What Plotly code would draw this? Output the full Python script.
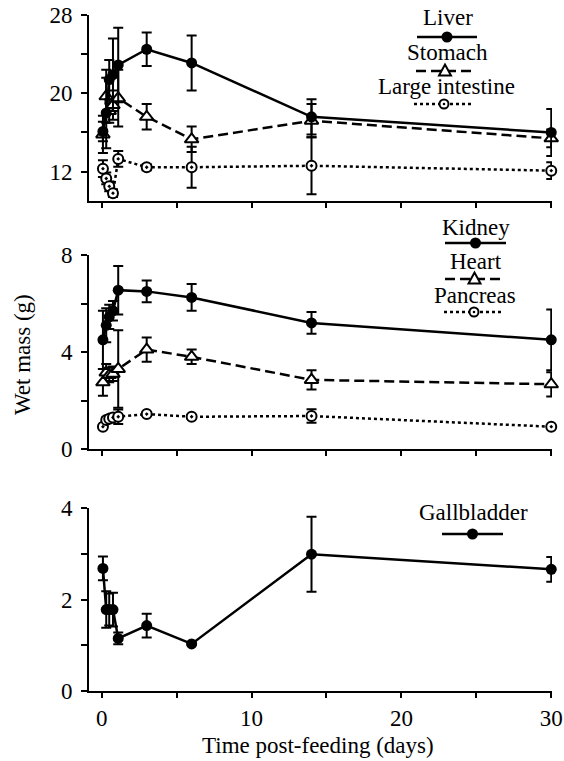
import plotly.graph_objects as go

# ---------------- data ----------------
time_days = [0.08, 0.3, 0.5, 0.75, 1.1, 3, 6, 14, 30]

liver = [16.1, 18.0, 21.4, 21.9, 22.9, 24.5, 23.1, 17.6, 16.0]
liver_err = [1.0, 3.6, 2.0, 3.7, 3.8, 1.7, 2.8, 1.8, 2.4]
stomach = [15.8, 19.7, 18.2, 18.8, 19.5, 17.6, 15.3, 17.2, 15.4]
stomach_err = [1.9, 2.7, 1.2, 1.5, 2.9, 1.3, 1.3, 1.7, 0.9]
large_int = [12.3, 11.3, 10.5, 9.8, 13.3, 12.45, 12.45, 12.6, 12.1]
large_int_err = [0.85, 0.6, 0.5, 0.4, 0.8, 0.3, 2.1, 2.9, 0.85]

kidney = [4.5, 5.1, 5.45, 5.7, 6.55, 6.5, 6.25, 5.2, 4.5]
kidney_err = [1.2, 0.7, 0.5, 0.4, 1.0, 0.45, 0.55, 0.45, 1.25]
heart = [2.75, 3.15, 3.05, 3.1, 3.3, 4.1, 3.8, 2.85, 2.67]
heart_err = [0.55, 0.35, 0.3, 0.3, 1.6, 0.5, 0.3, 0.4, 0.5]
pancreas = [0.92, 1.2, 1.25, 1.3, 1.33, 1.44, 1.33, 1.36, 0.92]
pancreas_err = [0.05, 0.1, 0.1, 0.15, 0.3, 0.08, 0.08, 0.28, 0.05]

gallbladder = [2.68, 1.78, 1.78, 1.78, 1.15, 1.43, 1.03, 2.99, 2.66]
gallbladder_err = [0.26, 0.4, 0.35, 0.37, 0.13, 0.26, 0.02, 0.82, 0.27]

x_tick_vals = [0, 10, 20, 30]
x_tick_text = ["0", "10", "20", "30"]
x_title = "Time post-feeding (days)"
y_title = "Wet mass (g)"

# ---------------- layout geometry ----------------
FONT = "Liberation Serif, Times New Roman, Times, Nimbus Roman, DejaVu Serif, serif"
FS = 23
W, H = 564, 761
ML, MR, MT, MB = 89, 12, 15, 70
PW = W - ML - MR
PH = H - MT - MB


def px(x, y):
    return (x - ML) / PW, (H - MB - y) / PH


def ydom(top_px, bot_px):
    return [(H - MB - bot_px) / PH, (H - MB - top_px) / PH]


fig = go.Figure()

SOLID = dict(color="black", width=2.5)
DASH = dict(color="black", width=2.5, dash="10px,5px")
DOT = dict(color="black", width=2.5, dash="3px,3px")

M_FILLED = dict(symbol="circle", size=11, color="black", line=dict(width=0))
M_TRI = dict(symbol="triangle-up", size=12, color="white", line=dict(color="black", width=2))
M_CDOT = dict(symbol="circle-dot", size=10, color="white", line=dict(color="black", width=2))


def add_series(y, err, line, marker, ax):
    fig.add_trace(go.Scatter(
        x=time_days, y=y, mode="lines+markers",
        line=line, marker=marker,
        error_y=dict(type="data", array=err, color="black", thickness=2, width=5),
        xaxis="x" + ax, yaxis="y" + ax, cliponaxis=False, showlegend=False,
        hoverinfo="skip",
    ))


add_series(large_int, large_int_err, DOT, M_CDOT, "")
add_series(stomach, stomach_err, DASH, M_TRI, "")
add_series(liver, liver_err, SOLID, M_FILLED, "")

add_series(pancreas, pancreas_err, DOT, M_CDOT, "2")
add_series(heart, heart_err, DASH, M_TRI, "2")
add_series(kidney, kidney_err, SOLID, M_FILLED, "2")

add_series(gallbladder, gallbladder_err, SOLID, M_FILLED, "3")

tickfont = dict(family=FONT, size=FS, color="black")

xcommon = dict(
    range=[-0.85, 30.05], showline=True, linewidth=2, linecolor="black",
    ticks="outside", ticklen=5, tickwidth=2, tickcolor="black",
    tickmode="array", tickvals=x_tick_vals, ticktext=x_tick_text,
    minor=dict(dtick=5, tick0=0, ticks="outside", ticklen=5, tickwidth=2, tickcolor="black"),
    showgrid=False, zeroline=False, tickfont=tickfont, domain=[0, 1],
    automargin=False, fixedrange=True,
)
ycommon = dict(
    showline=True, linewidth=2, linecolor="black",
    ticks="outside", ticklen=6, tickwidth=2, tickcolor="black",
    showgrid=False, zeroline=False, tickfont=tickfont, ticklabelstandoff=4,
    automargin=False, fixedrange=True,
)

fig.update_layout(
    template="none",
    xaxis=dict(xcommon, anchor="y", showticklabels=False),
    xaxis2=dict(xcommon, anchor="y2", showticklabels=False),
    xaxis3=dict(xcommon, anchor="y3", showticklabels=True),
    yaxis=dict(ycommon, anchor="x", domain=ydom(15, 201), range=[9, 28],
               tick0=12, dtick=8,
               minor=dict(tick0=12, dtick=4, ticks="outside", ticklen=6, tickwidth=2, tickcolor="black")),
    yaxis2=dict(ycommon, anchor="x2", domain=ydom(255, 449), range=[0, 8],
                tick0=0, dtick=4,
                minor=dict(tick0=0, dtick=2, ticks="outside", ticklen=6, tickwidth=2, tickcolor="black")),
    yaxis3=dict(ycommon, anchor="x3", domain=ydom(508, 691), range=[0, 4],
                tick0=0, dtick=2,
                minor=dict(tick0=0, dtick=1, ticks="outside", ticklen=6, tickwidth=2, tickcolor="black")),
    width=W, height=H,
    margin=dict(l=ML, r=MR, t=MT, b=MB, pad=0, autoexpand=False),
    paper_bgcolor="white", plot_bgcolor="white",
    showlegend=False,
    font=dict(family=FONT, size=FS, color="black"),
)

annotations = []
shapes = []

# axis titles
ax_, ay_ = px(318, 745)
annotations.append(dict(text=x_title, x=ax_, y=ay_, xref="paper", yref="paper",
                        showarrow=False, xanchor="center", yanchor="middle",
                        font=dict(family=FONT, size=FS, color="black")))
ax_, ay_ = px(22, 355)
annotations.append(dict(text=y_title, x=ax_, y=ay_, xref="paper", yref="paper",
                        showarrow=False, xanchor="center", yanchor="middle", textangle=-90,
                        font=dict(family=FONT, size=FS, color="black")))

# custom legends: label above a line sample with centred marker
legend_items = [
    dict(label="Liver", tx=448, ty=18, x0=417, x1=477, ly=37, dash="solid", mk="filled"),
    dict(label="Stomach", tx=447, ty=53, x0=416, x1=474, ly=71, dash="10px,5px", mk="tri"),
    dict(label="Large intestine", tx=446, ty=87, x0=414, x1=474, ly=104, dash="3px,3px", mk="cdot"),
    dict(label="Kidney", tx=476, ty=227, x0=445, x1=506, ly=243, dash="solid", mk="filled"),
    dict(label="Heart", tx=476, ty=261, x0=445, x1=504, ly=279, dash="10px,5px", mk="tri"),
    dict(label="Pancreas", tx=475, ty=295, x0=444, x1=504, ly=312, dash="3px,3px", mk="cdot"),
    dict(label="Gallbladder", tx=473, ty=512, x0=442, x1=503, ly=534, dash="solid", mk="filled"),
]

for it in legend_items:
    tx, ty = px(it["tx"], it["ty"])
    annotations.append(dict(text=it["label"], x=tx, y=ty, xref="paper", yref="paper",
                            showarrow=False, xanchor="center", yanchor="middle",
                            font=dict(family=FONT, size=FS, color="black")))
    lx0, ly = px(it["x0"], it["ly"])
    lx1, _ = px(it["x1"], it["ly"])
    shapes.append(dict(type="line", xref="paper", yref="paper", x0=lx0, x1=lx1, y0=ly, y1=ly,
                       line=dict(color="black", width=2.5, dash=it["dash"]), layer="above"))
    cx, _ = px((it["x0"] + it["x1"]) / 2, it["ly"])
    base = dict(xref="paper", yref="paper", xsizemode="pixel", ysizemode="pixel",
                xanchor=cx, yanchor=ly, layer="above")
    if it["mk"] == "filled":
        shapes.append(dict(base, type="circle", x0=-5.5, x1=5.5, y0=-5.5, y1=5.5,
                           fillcolor="black", line=dict(width=0)))
    elif it["mk"] == "tri":
        shapes.append(dict(base, type="path", path="M-6,-4.5 L6,-4.5 L0,6.5 Z",
                           fillcolor="white", line=dict(color="black", width=2)))
    else:
        shapes.append(dict(base, type="circle", x0=-4.5, x1=4.5, y0=-4.5, y1=4.5,
                           fillcolor="white", line=dict(color="black", width=2)))
        shapes.append(dict(base, type="circle", x0=-1.3, x1=1.3, y0=-1.3, y1=1.3,
                           fillcolor="black", line=dict(width=0)))

fig.update_layout(annotations=annotations, shapes=shapes)

fig.write_html(
    "out.html",
    config={"displayModeBar": False, "staticPlot": True},
    post_script="document.body.style.margin='0px';document.body.style.overflow='hidden';",
)
